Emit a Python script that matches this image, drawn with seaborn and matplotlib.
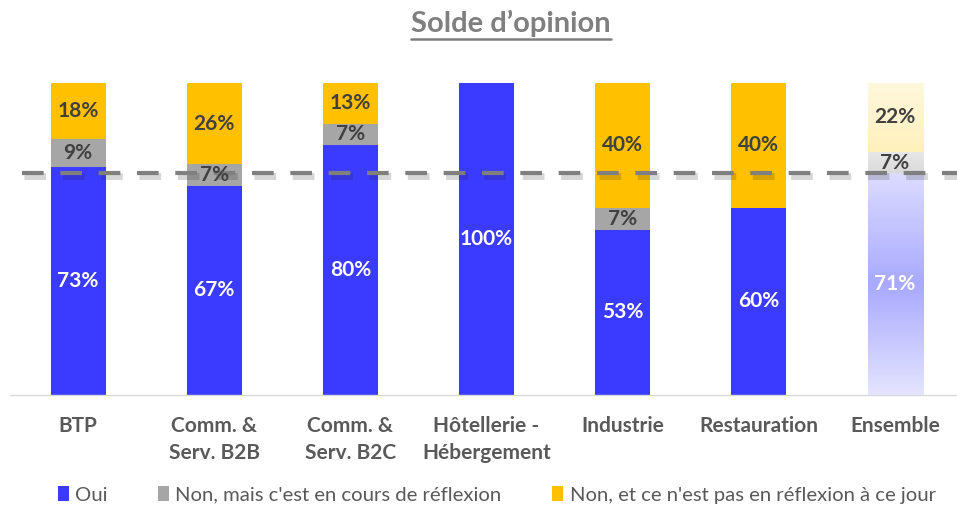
import numpy as np
import pandas as pd
import matplotlib
matplotlib.use("Agg")
import matplotlib.pyplot as plt
import matplotlib.patheffects as pe
from matplotlib.colors import LinearSegmentedColormap
from matplotlib.lines import Line2D
from matplotlib.patches import Patch
import seaborn as sns

# Data
categories = ["BTP", "Comm. &\nServ. B2B", "Comm. &\nServ. B2C", "Hôtellerie -\nHébergement",
              "Industrie", "Restauration", "Ensemble"]
oui = [73, 67, 80, 100, 53, 60, 71]
non_reflexion = [9, 7, 7, 0, 7, 0, 7]
non_pas = [18, 26, 13, 0, 40, 40, 22]
series_names = ["Oui", "Non, mais c'est en cours de réflexion", "Non, et ce n'est pas en réflexion à ce jour"]
reference_value = oui[-1]

BLUE = "#3B3BFF"
GREY = "#A6A6A6"
YELLOW = "#FFC000"
TEXT = "#404040"

sns.set_theme(style="white")
plt.rcParams["font.family"] = ["Lato", "DejaVu Sans"]

df = pd.DataFrame({"cat": categories, "oui": oui, "gris": non_reflexion, "jaune": non_pas})
df["c_gris"] = df["oui"] + df["gris"]
df["c_tot"] = df["c_gris"] + df["jaune"]

fig = plt.figure(figsize=(9.57, 5.08), dpi=100)
ax = fig.add_axes([10 / 957, 1 - 395 / 508, 947 / 957, 312 / 508])

W = 0.404
# layered cumulative bars give the stacked look
sns.barplot(data=df, x="cat", y="c_tot", color=YELLOW, width=W, saturation=1, ax=ax, linewidth=0)
sns.barplot(data=df, x="cat", y="c_gris", color=GREY, width=W, saturation=1, ax=ax, linewidth=0)
sns.barplot(data=df, x="cat", y="oui", color=BLUE, width=W, saturation=1, ax=ax, linewidth=0)

# faded gradient look on the overall bar
last = len(categories) - 1
x0, x1 = last - W / 2, last + W / 2

def gradient(y0, y1, stops, z):
    cmap = LinearSegmentedColormap.from_list("g", stops)
    arr = np.linspace(0, 1, 200).reshape(-1, 1)
    ax.imshow(arr, cmap=cmap, extent=[x0, x1, y0, y1], origin="lower",
              aspect="auto", zorder=z, interpolation="bilinear")

o, g, j = oui[last], non_reflexion[last], non_pas[last]
gradient(0, o, [(0, "#E4E4FF"), (0.5, "#A9A9FF"), (1, "#DCDCFF")], 3)
gradient(o, o + g, ["#DADADA", "#E8E8E8"], 3)
gradient(o + g, o + g + j, ["#FFF0BC", "#FFF8DD"], 3)
ax.set_xlim(-0.5, 6.455)
ax.set_ylim(0, 100)

# segment labels
LBL = 15
for i in range(len(categories)):
    if oui[i] > 0:
        ax.text(i, oui[i] / 2, f"{oui[i]}%", ha="center", va="center", color="white",
                fontsize=LBL, fontweight="bold", zorder=6)
    if non_reflexion[i] > 0:
        ax.text(i, oui[i] + non_reflexion[i] / 2, f"{non_reflexion[i]}%", ha="center",
                va="center", color=TEXT, fontsize=LBL, fontweight="bold", zorder=6)
    if non_pas[i] > 0:
        ax.text(i, oui[i] + non_reflexion[i] + non_pas[i] / 2, f"{non_pas[i]}%",
                ha="center", va="center", color=TEXT, fontsize=LBL, fontweight="bold", zorder=6)

# reference line at the overall value
ax.plot([-0.41, 6.455], [reference_value, reference_value], color="#7F7F7F", lw=3,
        ls=(0, (5.2, 4.0)), zorder=5, clip_on=False, solid_capstyle="butt",
        dash_capstyle="butt",
        path_effects=[pe.SimpleLineShadow(offset=(1.5, -2), shadow_color="#202020", alpha=0.18,
                                          linewidth=5),
                      pe.Normal()])

# axes styling
sns.despine(ax=ax, left=True, top=True, right=True, bottom=False)
ax.spines["bottom"].set_color("#D9D9D9")
ax.spines["bottom"].set_linewidth(1)
ax.set_yticks([])
ax.set_xlabel("")
ax.set_ylabel("")
ax.tick_params(axis="x", length=0, pad=15)
for lab in ax.get_xticklabels():
    lab.set_fontsize(15)
    lab.set_fontweight("bold")
    lab.set_color("#595959")
    lab.set_linespacing(1.45)
    lab.set_verticalalignment("top")

# title with underline
title = fig.text(511 / 957, 1 - 23 / 508, "Solde d\u2019opinion", ha="center", va="center",
                 fontsize=21, fontweight="bold", color="#7F7F7F")
fig.canvas.draw()
bb = title.get_window_extent().transformed(fig.transFigure.inverted())
fig.add_artist(Line2D([bb.x0, bb.x1], [bb.y0 - 0.004, bb.y0 - 0.004], color="#7F7F7F",
                      lw=1.8, transform=fig.transFigure))

handles = [Patch(facecolor=c, edgecolor="none") for c in (BLUE, GREY, YELLOW)]
fig.legend(handles, series_names, loc="center", bbox_to_anchor=(0.519, 1 - 495 / 508),
           ncol=3, frameon=False, fontsize=14.6, handlelength=0.55, handleheight=0.75,
           handletextpad=0.3, columnspacing=2.5, labelcolor="#595959")

fig.savefig("out.png", dpi=100)
